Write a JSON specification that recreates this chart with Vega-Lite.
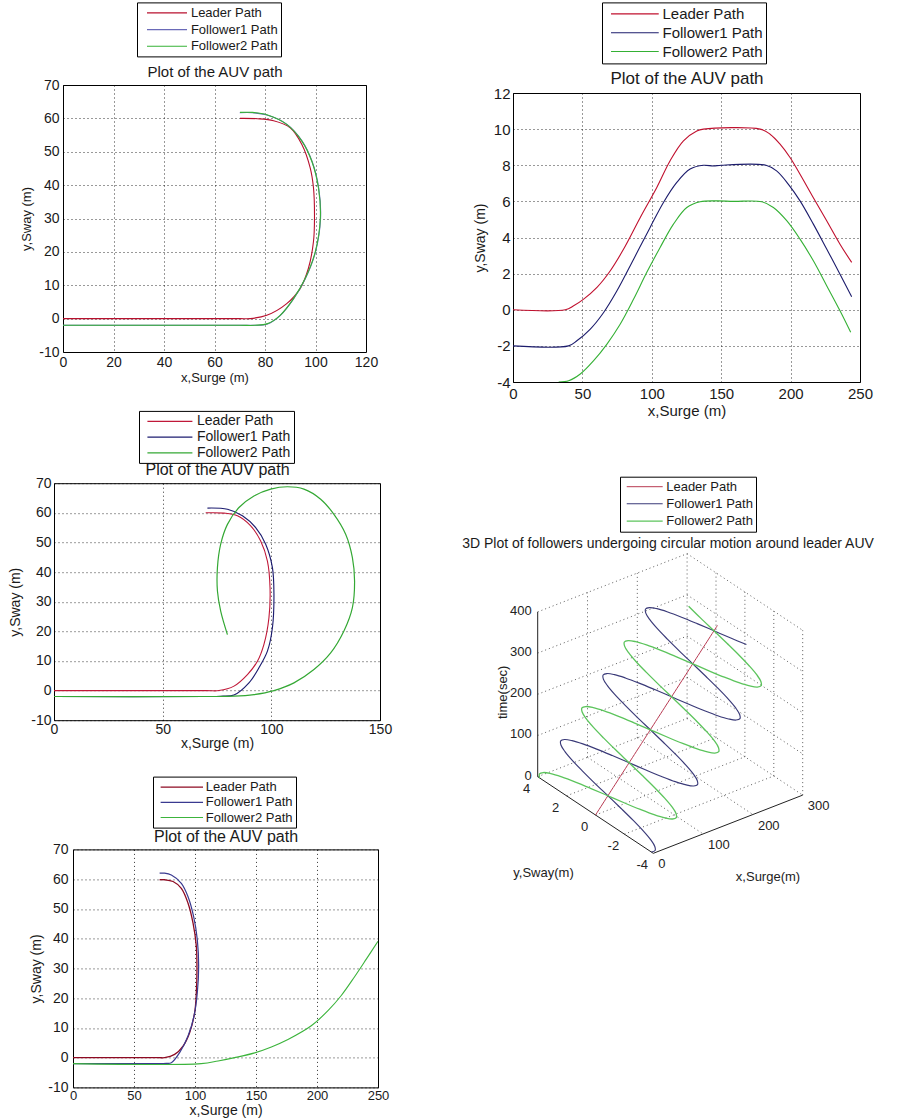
{
  "$schema": "https://vega.github.io/schema/vega-lite/v6.json",
  "padding": {"left": 7, "top": 0, "right": 0, "bottom": 0},
  "background": "white",
  "config": {
    "font": "Liberation Sans",
    "view": {"stroke": "#000", "strokeWidth": 1},
    "axis": {"ticks": false, "domain": false, "grid": true, "gridColor": "#000", "gridDash": [1, 3], "gridOpacity": 0.8, "labelFont": "Liberation Sans", "titleFont": "Liberation Sans", "labelFontSize": 14, "titleFontSize": 14, "titleFontWeight": "normal", "labelColor": "#1a1a1a", "titleColor": "#1a1a1a", "labelOverlap": false, "labelFlush": false, "labelExpr": "'' + datum.value"},
    "legend": {"orient": "none", "title": null, "direction": "vertical", "strokeColor": "#000", "fillColor": "#fff", "padding": 3, "symbolStrokeWidth": 1.3, "labelFont": "Liberation Sans", "labelColor": "#1a1a1a", "labelLimit": 300}
  },
  "datasets": {
    "p1": [
      {"s": "Leader Path", "x": 0, "y": 0}, {"s": "Leader Path", "x": 70, "y": 0}, {"s": "Leader Path", "x": 74.1, "y": 0}, {"s": "Leader Path", "x": 80.7, "y": 1}, {"s": "Leader Path", "x": 88.6, "y": 4.5}, {"s": "Leader Path", "x": 93.9, "y": 9}, {"s": "Leader Path", "x": 97.2, "y": 15.1}, {"s": "Leader Path", "x": 99.2, "y": 23.1}, {"s": "Leader Path", "x": 99.6, "y": 30.1}, {"s": "Leader Path", "x": 99.2, "y": 39.2}, {"s": "Leader Path", "x": 97.9, "y": 45.2}, {"s": "Leader Path", "x": 94.6, "y": 52.2}, {"s": "Leader Path", "x": 90, "y": 57.2}, {"s": "Leader Path", "x": 83.4, "y": 59.3}, {"s": "Leader Path", "x": 77, "y": 59.9}, {"s": "Leader Path", "x": 70.1, "y": 60},
      {"s": "Follower1 Path", "x": 0, "y": -2}, {"s": "Follower1 Path", "x": 70, "y": -2}, {"s": "Follower1 Path", "x": 76, "y": -2}, {"s": "Follower1 Path", "x": 81, "y": -1.6}, {"s": "Follower1 Path", "x": 86, "y": 0.9}, {"s": "Follower1 Path", "x": 91.3, "y": 5.9}, {"s": "Follower1 Path", "x": 96, "y": 12}, {"s": "Follower1 Path", "x": 100, "y": 20}, {"s": "Follower1 Path", "x": 102, "y": 30}, {"s": "Follower1 Path", "x": 101.3, "y": 39}, {"s": "Follower1 Path", "x": 98.7, "y": 47}, {"s": "Follower1 Path", "x": 94.7, "y": 53.2}, {"s": "Follower1 Path", "x": 88.7, "y": 58.2}, {"s": "Follower1 Path", "x": 80.8, "y": 61}, {"s": "Follower1 Path", "x": 75, "y": 61.7}, {"s": "Follower1 Path", "x": 70, "y": 61.7},
      {"s": "Follower2 Path", "x": 0, "y": -2}, {"s": "Follower2 Path", "x": 70, "y": -2}, {"s": "Follower2 Path", "x": 76, "y": -2}, {"s": "Follower2 Path", "x": 81, "y": -1.5}, {"s": "Follower2 Path", "x": 86, "y": 1}, {"s": "Follower2 Path", "x": 91.3, "y": 6}, {"s": "Follower2 Path", "x": 95.9, "y": 12}, {"s": "Follower2 Path", "x": 99.9, "y": 20}, {"s": "Follower2 Path", "x": 101.9, "y": 30}, {"s": "Follower2 Path", "x": 101.2, "y": 39}, {"s": "Follower2 Path", "x": 98.6, "y": 47}, {"s": "Follower2 Path", "x": 94.6, "y": 53.2}, {"s": "Follower2 Path", "x": 88.6, "y": 58.2}, {"s": "Follower2 Path", "x": 80.7, "y": 61.1}, {"s": "Follower2 Path", "x": 75, "y": 61.8}, {"s": "Follower2 Path", "x": 70.1, "y": 61.8}
    ],
    "p2": [
      {"s": "Leader Path", "x": 0, "y": 0}, {"s": "Leader Path", "x": 37.7, "y": 0}, {"s": "Leader Path", "x": 43.7, "y": 0.22}, {"s": "Leader Path", "x": 50.9, "y": 0.59}, {"s": "Leader Path", "x": 60.5, "y": 1.24}, {"s": "Leader Path", "x": 70.1, "y": 2.16}, {"s": "Leader Path", "x": 79.7, "y": 3.36}, {"s": "Leader Path", "x": 91.7, "y": 5.11}, {"s": "Leader Path", "x": 103.6, "y": 6.77}, {"s": "Leader Path", "x": 113.2, "y": 8.25}, {"s": "Leader Path", "x": 122.8, "y": 9.35}, {"s": "Leader Path", "x": 132.4, "y": 9.9}, {"s": "Leader Path", "x": 137.2, "y": 10}, {"s": "Leader Path", "x": 178, "y": 10}, {"s": "Leader Path", "x": 185.2, "y": 9.72}, {"s": "Leader Path", "x": 192.4, "y": 9.17}, {"s": "Leader Path", "x": 199.6, "y": 8.43}, {"s": "Leader Path", "x": 206.8, "y": 7.5}, {"s": "Leader Path", "x": 216.4, "y": 6.2}, {"s": "Leader Path", "x": 226, "y": 4.93}, {"s": "Leader Path", "x": 235.6, "y": 3.63}, {"s": "Leader Path", "x": 244, "y": 2.62},
      {"s": "Follower1 Path", "x": 0, "y": -2}, {"s": "Follower1 Path", "x": 40, "y": -2}, {"s": "Follower1 Path", "x": 46, "y": -1.72}, {"s": "Follower1 Path", "x": 55.7, "y": -1.07}, {"s": "Follower1 Path", "x": 65.3, "y": -0.15}, {"s": "Follower1 Path", "x": 74.9, "y": 1.05}, {"s": "Follower1 Path", "x": 86.9, "y": 2.8}, {"s": "Follower1 Path", "x": 98.8, "y": 4.56}, {"s": "Follower1 Path", "x": 108.4, "y": 5.94}, {"s": "Follower1 Path", "x": 118, "y": 7.05}, {"s": "Follower1 Path", "x": 127.6, "y": 7.79}, {"s": "Follower1 Path", "x": 137.2, "y": 8}, {"s": "Follower1 Path", "x": 144.4, "y": 7.96}, {"s": "Follower1 Path", "x": 150, "y": 8}, {"s": "Follower1 Path", "x": 182.3, "y": 8}, {"s": "Follower1 Path", "x": 189.9, "y": 7.69}, {"s": "Follower1 Path", "x": 198.3, "y": 6.96}, {"s": "Follower1 Path", "x": 206.8, "y": 6.03}, {"s": "Follower1 Path", "x": 216.4, "y": 4.74}, {"s": "Follower1 Path", "x": 226, "y": 3.36}, {"s": "Follower1 Path", "x": 235.6, "y": 1.97}, {"s": "Follower1 Path", "x": 244, "y": 0.72},
      {"s": "Follower2 Path", "x": 32.9, "y": -4}, {"s": "Follower2 Path", "x": 40.1, "y": -3.93}, {"s": "Follower2 Path", "x": 48.5, "y": -3.56}, {"s": "Follower2 Path", "x": 58.1, "y": -2.82}, {"s": "Follower2 Path", "x": 67.7, "y": -1.9}, {"s": "Follower2 Path", "x": 77.3, "y": -0.79}, {"s": "Follower2 Path", "x": 86.9, "y": 0.59}, {"s": "Follower2 Path", "x": 96.4, "y": 2.07}, {"s": "Follower2 Path", "x": 106, "y": 3.45}, {"s": "Follower2 Path", "x": 115.6, "y": 4.74}, {"s": "Follower2 Path", "x": 125.2, "y": 5.66}, {"s": "Follower2 Path", "x": 134.8, "y": 5.98}, {"s": "Follower2 Path", "x": 146.8, "y": 6.03}, {"s": "Follower2 Path", "x": 158.8, "y": 6}, {"s": "Follower2 Path", "x": 179.2, "y": 5.98}, {"s": "Follower2 Path", "x": 187.6, "y": 5.66}, {"s": "Follower2 Path", "x": 197.2, "y": 4.93}, {"s": "Follower2 Path", "x": 206.8, "y": 3.91}, {"s": "Follower2 Path", "x": 216.4, "y": 2.71}, {"s": "Follower2 Path", "x": 226, "y": 1.33}, {"s": "Follower2 Path", "x": 235.6, "y": -0.06}, {"s": "Follower2 Path", "x": 243.3, "y": -1.25}
    ],
    "p3": [
      {"s": "Leader Path", "x": 0, "y": 0}, {"s": "Leader Path", "x": 70, "y": 0}, {"s": "Leader Path", "x": 75.9, "y": 0}, {"s": "Leader Path", "x": 82.8, "y": 1.5}, {"s": "Leader Path", "x": 89, "y": 5.4}, {"s": "Leader Path", "x": 93.6, "y": 9.9}, {"s": "Leader Path", "x": 96.6, "y": 15.6}, {"s": "Leader Path", "x": 98.9, "y": 24.6}, {"s": "Leader Path", "x": 99.4, "y": 34.7}, {"s": "Leader Path", "x": 98.2, "y": 43.7}, {"s": "Leader Path", "x": 95.1, "y": 50.5}, {"s": "Leader Path", "x": 90.5, "y": 55.6}, {"s": "Leader Path", "x": 84.4, "y": 59}, {"s": "Leader Path", "x": 78.2, "y": 59.9}, {"s": "Leader Path", "x": 69.8, "y": 60},
      {"s": "Follower1 Path", "x": 0, "y": -2}, {"s": "Follower1 Path", "x": 70, "y": -2}, {"s": "Follower1 Path", "x": 76.7, "y": -1.9}, {"s": "Follower1 Path", "x": 82.8, "y": -1.5}, {"s": "Follower1 Path", "x": 89.7, "y": 2.6}, {"s": "Follower1 Path", "x": 94.3, "y": 7.7}, {"s": "Follower1 Path", "x": 98.2, "y": 13.3}, {"s": "Follower1 Path", "x": 100.5, "y": 21.2}, {"s": "Follower1 Path", "x": 101.2, "y": 32.5}, {"s": "Follower1 Path", "x": 100.5, "y": 41.5}, {"s": "Follower1 Path", "x": 97.4, "y": 49.4}, {"s": "Follower1 Path", "x": 92.8, "y": 55}, {"s": "Follower1 Path", "x": 86.7, "y": 59}, {"s": "Follower1 Path", "x": 79.8, "y": 61.2}, {"s": "Follower1 Path", "x": 70.6, "y": 61.6},
      {"s": "Follower2 Path", "x": 0, "y": -2}, {"s": "Follower2 Path", "x": 70, "y": -2}, {"s": "Follower2 Path", "x": 82.8, "y": -1.9}, {"s": "Follower2 Path", "x": 92, "y": -1.35}, {"s": "Follower2 Path", "x": 101.2, "y": 0}, {"s": "Follower2 Path", "x": 110.4, "y": 2.6}, {"s": "Follower2 Path", "x": 119.6, "y": 7.1}, {"s": "Follower2 Path", "x": 127.3, "y": 12.7}, {"s": "Follower2 Path", "x": 133.4, "y": 20.1}, {"s": "Follower2 Path", "x": 137.3, "y": 28}, {"s": "Follower2 Path", "x": 138.3, "y": 37}, {"s": "Follower2 Path", "x": 137.3, "y": 44.9}, {"s": "Follower2 Path", "x": 134.2, "y": 52.8}, {"s": "Follower2 Path", "x": 128.8, "y": 59.5}, {"s": "Follower2 Path", "x": 122.7, "y": 64.6}, {"s": "Follower2 Path", "x": 115, "y": 68}, {"s": "Follower2 Path", "x": 107.4, "y": 68.8}, {"s": "Follower2 Path", "x": 99.7, "y": 68}, {"s": "Follower2 Path", "x": 92, "y": 65.7}, {"s": "Follower2 Path", "x": 85.1, "y": 61.8}, {"s": "Follower2 Path", "x": 79.8, "y": 56.1}, {"s": "Follower2 Path", "x": 76.7, "y": 49.4}, {"s": "Follower2 Path", "x": 75.2, "y": 41.5}, {"s": "Follower2 Path", "x": 75.2, "y": 33.6}, {"s": "Follower2 Path", "x": 76.7, "y": 26.8}, {"s": "Follower2 Path", "x": 79.8, "y": 18.9}
    ],
    "p4": [
      {"s": "Leader Path", "x": 0, "y": 0}, {"s": "Leader Path", "x": 70, "y": 0}, {"s": "Leader Path", "x": 75.1, "y": 0}, {"s": "Leader Path", "x": 83.3, "y": 1.1}, {"s": "Leader Path", "x": 90.2, "y": 3.9}, {"s": "Leader Path", "x": 95.6, "y": 8.4}, {"s": "Leader Path", "x": 99.7, "y": 15.1}, {"s": "Leader Path", "x": 101.1, "y": 21.8}, {"s": "Leader Path", "x": 101.6, "y": 29.6}, {"s": "Leader Path", "x": 101.1, "y": 37.4}, {"s": "Leader Path", "x": 98.4, "y": 45.2}, {"s": "Leader Path", "x": 94.3, "y": 51.9}, {"s": "Leader Path", "x": 88.8, "y": 56.9}, {"s": "Leader Path", "x": 82, "y": 59.2}, {"s": "Leader Path", "x": 75, "y": 59.8}, {"s": "Leader Path", "x": 71, "y": 59.8},
      {"s": "Follower1 Path", "x": 0, "y": -2}, {"s": "Follower1 Path", "x": 70, "y": -2}, {"s": "Follower1 Path", "x": 76.5, "y": -1.9}, {"s": "Follower1 Path", "x": 80.6, "y": -1.7}, {"s": "Follower1 Path", "x": 87.4, "y": 1.7}, {"s": "Follower1 Path", "x": 94.3, "y": 7.3}, {"s": "Follower1 Path", "x": 99.2, "y": 14}, {"s": "Follower1 Path", "x": 101.9, "y": 21.8}, {"s": "Follower1 Path", "x": 103, "y": 30.7}, {"s": "Follower1 Path", "x": 101.9, "y": 39.6}, {"s": "Follower1 Path", "x": 98.9, "y": 47.4}, {"s": "Follower1 Path", "x": 94.3, "y": 54.1}, {"s": "Follower1 Path", "x": 88.8, "y": 58.6}, {"s": "Follower1 Path", "x": 80.6, "y": 61.4}, {"s": "Follower1 Path", "x": 75, "y": 62}, {"s": "Follower1 Path", "x": 71, "y": 62},
      {"s": "Follower2 Path", "x": 0, "y": -2}, {"s": "Follower2 Path", "x": 105, "y": -2}, {"s": "Follower2 Path", "x": 118.9, "y": -1.1}, {"s": "Follower2 Path", "x": 132.5, "y": 0}, {"s": "Follower2 Path", "x": 148.9, "y": 1.6}, {"s": "Follower2 Path", "x": 162.6, "y": 3.6}, {"s": "Follower2 Path", "x": 176.2, "y": 6.1}, {"s": "Follower2 Path", "x": 195.3, "y": 10.7}, {"s": "Follower2 Path", "x": 209, "y": 15.8}, {"s": "Follower2 Path", "x": 219.9, "y": 20.9}, {"s": "Follower2 Path", "x": 230.8, "y": 27.2}, {"s": "Follower2 Path", "x": 240.4, "y": 33.1}, {"s": "Follower2 Path", "x": 250, "y": 39.1}
    ],
    "p5": [
      {"t": 0, "x": 0, "L": 0, "F1": -3.86, "F2": 3.86}, {"t": 5, "x": 3.6, "L": 0, "F1": -4, "F2": 4}, {"t": 10, "x": 7.1, "L": 0, "F1": -3.86, "F2": 3.86}, {"t": 15, "x": 10.7, "L": 0, "F1": -3.46, "F2": 3.46}, {"t": 20, "x": 14.2, "L": 0, "F1": -2.83, "F2": 2.83}, {"t": 25, "x": 17.8, "L": 0, "F1": -2, "F2": 2}, {"t": 30, "x": 21.3, "L": 0, "F1": -1.04, "F2": 1.04}, {"t": 35, "x": 24.9, "L": 0, "F1": 0, "F2": 0}, {"t": 40, "x": 28.4, "L": 0, "F1": 1.04, "F2": -1.04}, {"t": 45, "x": 32, "L": 0, "F1": 2, "F2": -2}, {"t": 50, "x": 35.5, "L": 0, "F1": 2.83, "F2": -2.83}, {"t": 55, "x": 39.1, "L": 0, "F1": 3.46, "F2": -3.46}, {"t": 60, "x": 42.6, "L": 0, "F1": 3.86, "F2": -3.86}, {"t": 65, "x": 46.2, "L": 0, "F1": 4, "F2": -4}, {"t": 70, "x": 49.7, "L": 0, "F1": 3.86, "F2": -3.86}, {"t": 75, "x": 53.3, "L": 0, "F1": 3.46, "F2": -3.46}, {"t": 80, "x": 56.8, "L": 0, "F1": 2.83, "F2": -2.83}, {"t": 85, "x": 60.4, "L": 0, "F1": 2, "F2": -2}, {"t": 90, "x": 63.9, "L": 0, "F1": 1.04, "F2": -1.04}, {"t": 95, "x": 67.5, "L": 0, "F1": 0, "F2": 0}, {"t": 100, "x": 71, "L": 0, "F1": -1.04, "F2": 1.04}, {"t": 105, "x": 74.6, "L": 0, "F1": -2, "F2": 2}, {"t": 110, "x": 78.1, "L": 0, "F1": -2.83, "F2": 2.83}, {"t": 115, "x": 81.7, "L": 0, "F1": -3.46, "F2": 3.46},
      {"t": 120, "x": 85.2, "L": 0, "F1": -3.86, "F2": 3.86}, {"t": 125, "x": 88.8, "L": 0, "F1": -4, "F2": 4}, {"t": 130, "x": 92.3, "L": 0, "F1": -3.86, "F2": 3.86}, {"t": 135, "x": 95.9, "L": 0, "F1": -3.46, "F2": 3.46}, {"t": 140, "x": 99.4, "L": 0, "F1": -2.83, "F2": 2.83}, {"t": 145, "x": 103, "L": 0, "F1": -2, "F2": 2}, {"t": 150, "x": 106.5, "L": 0, "F1": -1.04, "F2": 1.04}, {"t": 155, "x": 110.1, "L": 0, "F1": 0, "F2": 0}, {"t": 160, "x": 113.6, "L": 0, "F1": 1.04, "F2": -1.04}, {"t": 165, "x": 117.2, "L": 0, "F1": 2, "F2": -2}, {"t": 170, "x": 120.7, "L": 0, "F1": 2.83, "F2": -2.83}, {"t": 175, "x": 124.3, "L": 0, "F1": 3.46, "F2": -3.46}, {"t": 180, "x": 127.8, "L": 0, "F1": 3.86, "F2": -3.86}, {"t": 185, "x": 131.4, "L": 0, "F1": 4, "F2": -4}, {"t": 190, "x": 134.9, "L": 0, "F1": 3.86, "F2": -3.86}, {"t": 195, "x": 138.5, "L": 0, "F1": 3.46, "F2": -3.46}, {"t": 200, "x": 142, "L": 0, "F1": 2.83, "F2": -2.83}, {"t": 205, "x": 145.6, "L": 0, "F1": 2, "F2": -2}, {"t": 210, "x": 149.1, "L": 0, "F1": 1.04, "F2": -1.04}, {"t": 215, "x": 152.7, "L": 0, "F1": 0, "F2": 0}, {"t": 220, "x": 156.2, "L": 0, "F1": -1.04, "F2": 1.04}, {"t": 225, "x": 159.8, "L": 0, "F1": -2, "F2": 2}, {"t": 230, "x": 163.3, "L": 0, "F1": -2.83, "F2": 2.83}, {"t": 235, "x": 166.9, "L": 0, "F1": -3.46, "F2": 3.46},
      {"t": 240, "x": 170.4, "L": 0, "F1": -3.86, "F2": 3.86}, {"t": 245, "x": 174, "L": 0, "F1": -4, "F2": 4}, {"t": 250, "x": 177.5, "L": 0, "F1": -3.86, "F2": 3.86}, {"t": 255, "x": 181.1, "L": 0, "F1": -3.46, "F2": 3.46}, {"t": 260, "x": 184.6, "L": 0, "F1": -2.83, "F2": 2.83}, {"t": 265, "x": 188.2, "L": 0, "F1": -2, "F2": 2}, {"t": 270, "x": 191.7, "L": 0, "F1": -1.04, "F2": 1.04}, {"t": 275, "x": 195.3, "L": 0, "F1": 0, "F2": 0}, {"t": 280, "x": 198.8, "L": 0, "F1": 1.04, "F2": -1.04}, {"t": 285, "x": 202.4, "L": 0, "F1": 2, "F2": -2}, {"t": 290, "x": 205.9, "L": 0, "F1": 2.83, "F2": -2.83}, {"t": 295, "x": 209.5, "L": 0, "F1": 3.46, "F2": -3.46}, {"t": 300, "x": 213, "L": 0, "F1": 3.86, "F2": -3.86}, {"t": 305, "x": 216.6, "L": 0, "F1": 4, "F2": -4}, {"t": 310, "x": 220.1, "L": 0, "F1": 3.86, "F2": -3.86}, {"t": 315, "x": 223.7, "L": 0, "F1": 3.46, "F2": -3.46}, {"t": 320, "x": 227.2, "L": 0, "F1": 2.83, "F2": -2.83}, {"t": 325, "x": 230.8, "L": 0, "F1": 2, "F2": -2}, {"t": 330, "x": 234.3, "L": 0, "F1": 1.04, "F2": -1.04}, {"t": 335, "x": 237.9, "L": 0, "F1": 0, "F2": 0}, {"t": 340, "x": 241.4, "L": 0, "F1": -1.04, "F2": 1.04}, {"t": 345, "x": 245, "L": 0, "F1": -2, "F2": 2}
    ],
    "grid3d": [
      {"k": "g", "x1": 100, "y1": 4, "t1": 0, "x2": 100, "y2": -4, "t2": 0},
      {"k": "g", "x1": 200, "y1": 4, "t1": 0, "x2": 200, "y2": -4, "t2": 0},
      {"k": "g", "x1": 300, "y1": 4, "t1": 0, "x2": 300, "y2": -4, "t2": 0},
      {"k": "g", "x1": 0, "y1": 4, "t1": 0, "x2": 300, "y2": 4, "t2": 0},
      {"k": "g", "x1": 0, "y1": 2, "t1": 0, "x2": 300, "y2": 2, "t2": 0},
      {"k": "g", "x1": 0, "y1": 0, "t1": 0, "x2": 300, "y2": 0, "t2": 0},
      {"k": "g", "x1": 0, "y1": -2, "t1": 0, "x2": 300, "y2": -2, "t2": 0},
      {"k": "g", "x1": 100, "y1": 4, "t1": 0, "x2": 100, "y2": 4, "t2": 400},
      {"k": "g", "x1": 200, "y1": 4, "t1": 0, "x2": 200, "y2": 4, "t2": 400},
      {"k": "g", "x1": 300, "y1": 4, "t1": 0, "x2": 300, "y2": 4, "t2": 400},
      {"k": "g", "x1": 0, "y1": 4, "t1": 100, "x2": 300, "y2": 4, "t2": 100},
      {"k": "g", "x1": 0, "y1": 4, "t1": 200, "x2": 300, "y2": 4, "t2": 200},
      {"k": "g", "x1": 0, "y1": 4, "t1": 300, "x2": 300, "y2": 4, "t2": 300},
      {"k": "g", "x1": 0, "y1": 4, "t1": 400, "x2": 300, "y2": 4, "t2": 400},
      {"k": "g", "x1": 300, "y1": 2, "t1": 0, "x2": 300, "y2": 2, "t2": 400},
      {"k": "g", "x1": 300, "y1": 0, "t1": 0, "x2": 300, "y2": 0, "t2": 400},
      {"k": "g", "x1": 300, "y1": -2, "t1": 0, "x2": 300, "y2": -2, "t2": 400},
      {"k": "g", "x1": 300, "y1": -4, "t1": 0, "x2": 300, "y2": -4, "t2": 400},
      {"k": "g", "x1": 300, "y1": 4, "t1": 100, "x2": 300, "y2": -4, "t2": 100},
      {"k": "g", "x1": 300, "y1": 4, "t1": 200, "x2": 300, "y2": -4, "t2": 200},
      {"k": "g", "x1": 300, "y1": 4, "t1": 300, "x2": 300, "y2": -4, "t2": 300},
      {"k": "g", "x1": 300, "y1": 4, "t1": 400, "x2": 300, "y2": -4, "t2": 400},
      {"k": "a", "x1": 0, "y1": 4, "t1": 0, "x2": 0, "y2": 4, "t2": 400},
      {"k": "a", "x1": 0, "y1": 4, "t1": 0, "x2": 0, "y2": -4, "t2": 0},
      {"k": "a", "x1": 0, "y1": -4, "t1": 0, "x2": 300, "y2": -4, "t2": 0}
    ],
    "labels3d": [
      {"ax": "t", "x": 0, "y": 4, "t": 0, "label": "0"}, {"ax": "t", "x": 0, "y": 4, "t": 100, "label": "100"}, {"ax": "t", "x": 0, "y": 4, "t": 200, "label": "200"}, {"ax": "t", "x": 0, "y": 4, "t": 300, "label": "300"}, {"ax": "t", "x": 0, "y": 4, "t": 400, "label": "400"},
      {"ax": "y", "x": 0, "y": 4, "t": 0, "label": "4"}, {"ax": "y", "x": 0, "y": 2, "t": 0, "label": "2"}, {"ax": "y", "x": 0, "y": 0, "t": 0, "label": "0"}, {"ax": "y", "x": 0, "y": -2, "t": 0, "label": "-2"}, {"ax": "y", "x": 0, "y": -4, "t": 0, "label": "-4"},
      {"ax": "x", "x": 0, "y": -4, "t": 0, "label": "0"}, {"ax": "x", "x": 100, "y": -4, "t": 0, "label": "100"}, {"ax": "x", "x": 200, "y": -4, "t": 0, "label": "200"}, {"ax": "x", "x": 300, "y": -4, "t": 0, "label": "300"},
      {"ax": "tt", "x": 0, "y": 4, "t": 200, "label": "time(sec)"}, {"ax": "yt", "x": 0, "y": 0, "t": 0, "label": "y,Sway(m)"}, {"ax": "xt", "x": 150, "y": -4, "t": 0, "label": "x,Surge(m)"}
    ]
  },
  "spacing": 62,
  "resolve": {"scale": {"color": "independent", "strokeWidth": "independent"}, "legend": {"color": "independent"}},
  "hconcat": [
    {
      "vconcat": [
        {"width": 1, "height": 1, "data": {"values": [{}]}, "mark": {"type": "point", "opacity": 0, "size": 0, "strokeWidth": 0}, "encoding": {}, "view": {"stroke": null}},
        {
          "vconcat": [
            {
              "hconcat": [
                {"width": 11.5, "height": 1, "data": {"values": [{}]}, "mark": {"type": "point", "opacity": 0, "size": 0, "strokeWidth": 0}, "encoding": {}, "view": {"stroke": null}},
                {
                  "width": 303, "height": 267,
                  "data": {"name": "p1"},
                  "resolve": {"axis": {"x": "independent"}},
                  "layer": [
                    {
                      "mark": {"type": "line", "interpolate": "catmull-rom", "clip": true},
                      "encoding": {
                        "x": {"field": "x", "type": "quantitative", "scale": {"domain": [0, 120], "nice": false, "zero": false}, "axis": {"values": [0, 20, 40, 60, 80, 100, 120], "title": "x,Surge (m)", "labelFontSize": 14, "titleFontSize": 13, "labelPadding": 3, "titleY": 25.7, "titleBaseline": "middle"}},
                        "y": {"field": "y", "type": "quantitative", "scale": {"domain": [-10, 70], "nice": false, "zero": false}, "axis": {"values": [-10, 0, 10, 20, 30, 40, 50, 60, 70], "title": "y,Sway (m)", "labelFontSize": 14, "titleFontSize": 13, "labelPadding": 4, "titleX": -36.6, "titleBaseline": "middle"}},
                        "color": {"field": "s", "type": "nominal", "scale": {"domain": ["Leader Path", "Follower1 Path", "Follower2 Path"], "range": ["#b8102e", "#6a6ab8", "#36b236"]}, "legend": {"legendX": 74, "legendY": -82.6, "symbolType": "M-0.077,0H6.08", "symbolSize": 169, "labelFontSize": 13, "labelOffset": 35.9, "rowPadding": 1.7}},
                        "strokeWidth": {"field": "s", "type": "nominal", "scale": {"domain": ["Leader Path", "Follower1 Path", "Follower2 Path"], "range": [1.1, 1.1, 1.5]}, "legend": null},
                        "order": {"value": null}
                      }
                    },
                    {
                      "mark": {"type": "point", "opacity": 0},
                      "encoding": {
                        "x": {"field": "x", "type": "quantitative", "scale": {"domain": [0, 120], "nice": false, "zero": false}, "axis": {"orient": "top", "title": "Plot of the AUV path", "labels": false, "grid": false, "titleFontSize": 15, "titleY": -8.6, "titleBaseline": "alphabetic"}}
                      }
                    }
                  ]
                }
              ],
              "spacing": 0,
              "resolve": {"scale": {"color": "independent", "strokeWidth": "independent"}, "legend": {"color": "independent"}}
            },
            {
              "hconcat": [
                {"width": 1, "height": 1, "data": {"values": [{}]}, "mark": {"type": "point", "opacity": 0, "size": 0, "strokeWidth": 0}, "encoding": {}, "view": {"stroke": null}},
                {
                  "width": 326, "height": 237,
                  "data": {"name": "p3"},
                  "resolve": {"axis": {"x": "independent"}},
                  "layer": [
                    {
                      "mark": {"type": "line", "interpolate": "catmull-rom", "clip": true},
                      "encoding": {
                        "x": {"field": "x", "type": "quantitative", "scale": {"domain": [0, 150], "nice": false, "zero": false}, "axis": {"values": [0, 50, 100, 150], "title": "x,Surge (m)", "labelPadding": 2, "titleY": 23.7, "titleBaseline": "middle"}},
                        "y": {"field": "y", "type": "quantitative", "scale": {"domain": [-10, 70], "nice": false, "zero": false}, "axis": {"values": [-10, 0, 10, 20, 30, 40, 50, 60, 70], "title": "y,Sway (m)", "labelPadding": 3, "titleX": -38.3, "titleBaseline": "middle"}},
                        "color": {"field": "s", "type": "nominal", "scale": {"domain": ["Leader Path", "Follower1 Path", "Follower2 Path"], "range": ["#c01838", "#1c1c70", "#34a834"]}, "legend": {"legendX": 85, "legendY": -72.3, "symbolType": "M-0.32,0H6.6", "symbolSize": 169, "labelFontSize": 14, "labelOffset": 39.9, "rowPadding": 0.7}},
                        "strokeWidth": {"field": "s", "type": "nominal", "scale": {"domain": ["Leader Path", "Follower1 Path", "Follower2 Path"], "range": [1.1, 1.2, 1.3]}, "legend": null},
                        "order": {"value": null}
                      }
                    },
                    {
                      "mark": {"type": "point", "opacity": 0},
                      "encoding": {
                        "x": {"field": "x", "type": "quantitative", "scale": {"domain": [0, 150], "nice": false, "zero": false}, "axis": {"orient": "top", "title": "Plot of the AUV path", "labels": false, "grid": false, "titleFontSize": 16, "titleY": -8.3, "titleBaseline": "alphabetic"}}
                      }
                    }
                  ]
                }
              ],
              "spacing": 0,
              "resolve": {"scale": {"color": "independent", "strokeWidth": "independent"}, "legend": {"color": "independent"}}
            },
            {
              "hconcat": [
                {"width": 21, "height": 1, "data": {"values": [{}]}, "mark": {"type": "point", "opacity": 0, "size": 0, "strokeWidth": 0}, "encoding": {}, "view": {"stroke": null}},
                {
                  "width": 305, "height": 238,
                  "data": {"name": "p4"},
                  "resolve": {"axis": {"x": "independent"}},
                  "layer": [
                    {
                      "mark": {"type": "line", "interpolate": "catmull-rom", "clip": true},
                      "encoding": {
                        "x": {"field": "x", "type": "quantitative", "scale": {"domain": [0, 250], "nice": false, "zero": false}, "axis": {"values": [0, 50, 100, 150, 200, 250], "title": "x,Surge (m)", "labelFontSize": 13, "labelPadding": 2, "titleY": 23, "titleBaseline": "middle"}},
                        "y": {"field": "y", "type": "quantitative", "scale": {"domain": [-10, 70], "nice": false, "zero": false}, "axis": {"values": [-10, 0, 10, 20, 30, 40, 50, 60, 70], "title": "y,Sway (m)", "labelPadding": 5, "titleX": -36.7, "titleBaseline": "middle"}},
                        "color": {"field": "s", "type": "nominal", "scale": {"domain": ["Leader Path", "Follower1 Path", "Follower2 Path"], "range": ["#8e0a22", "#3a3a90", "#3cb43c"]}, "legend": {"legendX": 80, "legendY": -72.8, "symbolType": "M-0.44,0H6.08", "symbolSize": 169, "labelFontSize": 13, "labelOffset": 34.8, "rowPadding": 0.2}},
                        "strokeWidth": {"field": "s", "type": "nominal", "scale": {"domain": ["Leader Path", "Follower1 Path", "Follower2 Path"], "range": [1.3, 1.1, 1.4]}, "legend": null},
                        "order": {"value": null}
                      }
                    },
                    {
                      "mark": {"type": "point", "opacity": 0},
                      "encoding": {
                        "x": {"field": "x", "type": "quantitative", "scale": {"domain": [0, 250], "nice": false, "zero": false}, "axis": {"orient": "top", "title": "Plot of the AUV path", "labels": false, "grid": false, "titleFontSize": 16, "titleY": -8.3, "titleBaseline": "alphabetic"}}
                      }
                    }
                  ]
                }
              ],
              "spacing": 0,
              "resolve": {"scale": {"color": "independent", "strokeWidth": "independent"}, "legend": {"color": "independent"}}
            }
          ],
          "spacing": 23.2,
          "resolve": {"scale": {"color": "independent", "strokeWidth": "independent"}, "legend": {"color": "independent"}}
        }
      ],
      "spacing": 0,
      "resolve": {"scale": {"color": "independent", "strokeWidth": "independent"}, "legend": {"color": "independent"}}
    },
    {
      "vconcat": [
        {"width": 1, "height": 1, "data": {"values": [{}]}, "mark": {"type": "point", "opacity": 0, "size": 0, "strokeWidth": 0}, "encoding": {}, "view": {"stroke": null}},
        {
          "vconcat": [
            {
              "hconcat": [
                {"width": 16.7, "height": 1, "data": {"values": [{}]}, "mark": {"type": "point", "opacity": 0, "size": 0, "strokeWidth": 0}, "encoding": {}, "view": {"stroke": null}},
                {
                  "width": 347, "height": 289,
                  "data": {"name": "p2"},
                  "resolve": {"axis": {"x": "independent"}},
                  "layer": [
                    {
                      "mark": {"type": "line", "interpolate": "catmull-rom", "clip": true},
                      "encoding": {
                        "x": {"field": "x", "type": "quantitative", "scale": {"domain": [0, 250], "nice": false, "zero": false}, "axis": {"values": [0, 50, 100, 150, 200, 250], "title": "x,Surge (m)", "labelFontSize": 15, "titleFontSize": 15, "labelPadding": 4.5, "titleY": 28.3, "titleBaseline": "middle"}},
                        "y": {"field": "y", "type": "quantitative", "scale": {"domain": [-4, 12], "nice": false, "zero": false}, "axis": {"values": [-4, -2, 0, 2, 4, 6, 8, 10, 12], "title": "y,Sway (m)", "labelFontSize": 15, "titleFontSize": 14, "labelPadding": 3, "titleX": -32.7, "titleBaseline": "middle"}},
                        "color": {"field": "s", "type": "nominal", "scale": {"domain": ["Leader Path", "Follower1 Path", "Follower2 Path"], "range": ["#c0102e", "#1c1c6c", "#34b034"]}, "legend": {"legendX": 89, "legendY": -90.6, "symbolType": "M-0.33,0H6.03", "symbolSize": 225, "labelFontSize": 15, "labelOffset": 40.5, "rowPadding": 1.8}},
                        "strokeWidth": {"field": "s", "type": "nominal", "scale": {"domain": ["Leader Path", "Follower1 Path", "Follower2 Path"], "range": [1.1, 1.1, 1.4]}, "legend": null},
                        "order": {"value": null}
                      }
                    },
                    {
                      "mark": {"type": "point", "opacity": 0},
                      "encoding": {
                        "x": {"field": "x", "type": "quantitative", "scale": {"domain": [0, 250], "nice": false, "zero": false}, "axis": {"orient": "top", "title": "Plot of the AUV path", "labels": false, "grid": false, "titleFontSize": 17, "titleY": -9.6, "titleBaseline": "alphabetic"}}
                      }
                    }
                  ]
                }
              ],
              "spacing": 0,
              "resolve": {"scale": {"color": "independent", "strokeWidth": "independent"}, "legend": {"color": "independent"}}
            },
            {
              "width": 425, "height": 330,
              "view": {"stroke": null},
              "layer": [
                {
                  "data": {"name": "grid3d"},
                  "transform": [
                    {"filter": "datum.k == 'g'"},
                    {"calculate": "0.498*datum.x1 - 14.45*datum.y1", "as": "u1"},
                    {"calculate": "0.412*datum.t1 + 0.194*datum.x1 + 9.58*datum.y1", "as": "v1"},
                    {"calculate": "0.498*datum.x2 - 14.45*datum.y2", "as": "u2"},
                    {"calculate": "0.412*datum.t2 + 0.194*datum.x2 + 9.58*datum.y2", "as": "v2"}
                  ],
                  "mark": {"type": "rule", "stroke": "#333", "strokeWidth": 1, "strokeDash": [1, 3], "opacity": 0.8},
                  "encoding": {
                    "x": {"field": "u1", "type": "quantitative", "scale": {"domain": [-140.5, 284.5], "nice": false, "zero": false}, "axis": {"orient": "top", "title": "3D Plot of followers undergoing circular motion around leader AUV", "labels": false, "grid": false, "titleFontSize": 14, "titleY": -2.7, "titleBaseline": "alphabetic"}},
                    "y": {"field": "v1", "type": "quantitative", "scale": {"domain": [-65, 265], "nice": false, "zero": false}, "axis": null},
                    "x2": {"field": "u2"},
                    "y2": {"field": "v2"}
                  }
                },
                {
                  "data": {"name": "grid3d"},
                  "transform": [
                    {"filter": "datum.k == 'a'"},
                    {"calculate": "0.498*datum.x1 - 14.45*datum.y1", "as": "u1"},
                    {"calculate": "0.412*datum.t1 + 0.194*datum.x1 + 9.58*datum.y1", "as": "v1"},
                    {"calculate": "0.498*datum.x2 - 14.45*datum.y2", "as": "u2"},
                    {"calculate": "0.412*datum.t2 + 0.194*datum.x2 + 9.58*datum.y2", "as": "v2"}
                  ],
                  "mark": {"type": "rule", "stroke": "#222", "strokeWidth": 1},
                  "encoding": {
                    "x": {"field": "u1", "type": "quantitative", "axis": {"orient": "top", "title": "3D Plot of followers undergoing circular motion around leader AUV", "labels": false, "grid": false, "titleFontSize": 14, "titleY": -2.7, "titleBaseline": "alphabetic"}},
                    "y": {"field": "v1", "type": "quantitative", "axis": null},
                    "x2": {"field": "u2"},
                    "y2": {"field": "v2"}
                  }
                },
                {
                  "data": {"name": "p5"},
                  "transform": [
                    {"fold": ["L", "F1", "F2"], "as": ["key", "value"]},
                    {"calculate": "datum.key == 'L' ? 'Leader Path' : datum.key == 'F1' ? 'Follower1 Path' : 'Follower2 Path'", "as": "s"},
                    {"calculate": "0.498*datum.x - 14.45*datum.value", "as": "u"},
                    {"calculate": "0.412*datum.t + 0.194*datum.x + 9.58*datum.value", "as": "v"}
                  ],
                  "mark": {"type": "line", "interpolate": "catmull-rom"},
                  "encoding": {
                    "x": {"field": "u", "type": "quantitative", "axis": {"orient": "top", "title": "3D Plot of followers undergoing circular motion around leader AUV", "labels": false, "grid": false, "titleFontSize": 14, "titleY": -2.7, "titleBaseline": "alphabetic"}},
                    "y": {"field": "v", "type": "quantitative", "axis": null},
                    "color": {"field": "s", "type": "nominal", "scale": {"domain": ["Leader Path", "Follower1 Path", "Follower2 Path"], "range": ["#b83a52", "#3a3a78", "#5cc45c"]}, "legend": {"legendX": 165, "legendY": -73.3, "symbolType": "M-0.58,0H4.95", "symbolSize": 169, "labelFontSize": 13, "labelOffset": 28.2, "rowPadding": 2.5}},
                    "strokeWidth": {"field": "s", "type": "nominal", "scale": {"domain": ["Leader Path", "Follower1 Path", "Follower2 Path"], "range": [1, 1.3, 1.7]}, "legend": null},
                    "order": {"value": null}
                  }
                },
                {
                  "data": {"name": "labels3d"},
                  "transform": [
                    {"filter": "datum.ax == 't'"},
                    {"calculate": "0.498*datum.x - 14.45*datum.y", "as": "u"},
                    {"calculate": "0.412*datum.t + 0.194*datum.x + 9.58*datum.y", "as": "v"}
                  ],
                  "mark": {"type": "text", "align": "right", "baseline": "middle", "dx": -6, "dy": -1, "fontSize": 13, "color": "#222"},
                  "encoding": {"x": {"field": "u", "type": "quantitative", "axis": {"orient": "top", "title": "3D Plot of followers undergoing circular motion around leader AUV", "labels": false, "grid": false, "titleFontSize": 14, "titleY": -2.7, "titleBaseline": "alphabetic"}}, "y": {"field": "v", "type": "quantitative", "axis": null}, "text": {"field": "label"}}
                },
                {
                  "data": {"name": "labels3d"},
                  "transform": [
                    {"filter": "datum.ax == 'y'"},
                    {"calculate": "0.498*datum.x - 14.45*datum.y", "as": "u"},
                    {"calculate": "0.412*datum.t + 0.194*datum.x + 9.58*datum.y", "as": "v"}
                  ],
                  "mark": {"type": "text", "align": "center", "baseline": "middle", "dx": -11, "dy": 12, "fontSize": 13, "color": "#222"},
                  "encoding": {"x": {"field": "u", "type": "quantitative", "axis": {"orient": "top", "title": "3D Plot of followers undergoing circular motion around leader AUV", "labels": false, "grid": false, "titleFontSize": 14, "titleY": -2.7, "titleBaseline": "alphabetic"}}, "y": {"field": "v", "type": "quantitative", "axis": null}, "text": {"field": "label"}}
                },
                {
                  "data": {"name": "labels3d"},
                  "transform": [
                    {"filter": "datum.ax == 'x'"},
                    {"calculate": "0.498*datum.x - 14.45*datum.y", "as": "u"},
                    {"calculate": "0.412*datum.t + 0.194*datum.x + 9.58*datum.y", "as": "v"}
                  ],
                  "mark": {"type": "text", "align": "left", "baseline": "middle", "dx": 5, "dy": 11, "fontSize": 13, "color": "#222"},
                  "encoding": {"x": {"field": "u", "type": "quantitative", "axis": {"orient": "top", "title": "3D Plot of followers undergoing circular motion around leader AUV", "labels": false, "grid": false, "titleFontSize": 14, "titleY": -2.7, "titleBaseline": "alphabetic"}}, "y": {"field": "v", "type": "quantitative", "axis": null}, "text": {"field": "label"}}
                },
                {
                  "data": {"name": "labels3d"},
                  "transform": [
                    {"filter": "datum.ax == 'tt'"},
                    {"calculate": "0.498*datum.x - 14.45*datum.y", "as": "u"},
                    {"calculate": "0.412*datum.t + 0.194*datum.x + 9.58*datum.y", "as": "v"}
                  ],
                  "mark": {"type": "text", "align": "center", "baseline": "middle", "angle": 270, "dx": 2, "dy": -35, "fontSize": 13, "color": "#222"},
                  "encoding": {"x": {"field": "u", "type": "quantitative", "axis": {"orient": "top", "title": "3D Plot of followers undergoing circular motion around leader AUV", "labels": false, "grid": false, "titleFontSize": 14, "titleY": -2.7, "titleBaseline": "alphabetic"}}, "y": {"field": "v", "type": "quantitative", "axis": null}, "text": {"field": "label"}}
                },
                {
                  "data": {"name": "labels3d"},
                  "transform": [
                    {"filter": "datum.ax == 'yt'"},
                    {"calculate": "0.498*datum.x - 14.45*datum.y", "as": "u"},
                    {"calculate": "0.412*datum.t + 0.194*datum.x + 9.58*datum.y", "as": "v"}
                  ],
                  "mark": {"type": "text", "align": "center", "baseline": "middle", "dx": -52, "dy": 58, "fontSize": 13, "color": "#222"},
                  "encoding": {"x": {"field": "u", "type": "quantitative", "axis": {"orient": "top", "title": "3D Plot of followers undergoing circular motion around leader AUV", "labels": false, "grid": false, "titleFontSize": 14, "titleY": -2.7, "titleBaseline": "alphabetic"}}, "y": {"field": "v", "type": "quantitative", "axis": null}, "text": {"field": "label"}}
                },
                {
                  "data": {"name": "labels3d"},
                  "transform": [
                    {"filter": "datum.ax == 'xt'"},
                    {"calculate": "0.498*datum.x - 14.45*datum.y", "as": "u"},
                    {"calculate": "0.412*datum.t + 0.194*datum.x + 9.58*datum.y", "as": "v"}
                  ],
                  "mark": {"type": "text", "align": "center", "baseline": "middle", "dx": 40, "dy": 52.5, "fontSize": 13, "color": "#222"},
                  "encoding": {"x": {"field": "u", "type": "quantitative", "axis": {"orient": "top", "title": "3D Plot of followers undergoing circular motion around leader AUV", "labels": false, "grid": false, "titleFontSize": 14, "titleY": -2.7, "titleBaseline": "alphabetic"}}, "y": {"field": "v", "type": "quantitative", "axis": null}, "text": {"field": "label"}}
                }
              ]
            }
          ],
          "spacing": 57,
          "resolve": {"scale": {"color": "independent", "strokeWidth": "independent"}, "legend": {"color": "independent"}}
        }
      ],
      "spacing": 0,
      "resolve": {"scale": {"color": "independent", "strokeWidth": "independent"}, "legend": {"color": "independent"}}
    }
  ]
}
